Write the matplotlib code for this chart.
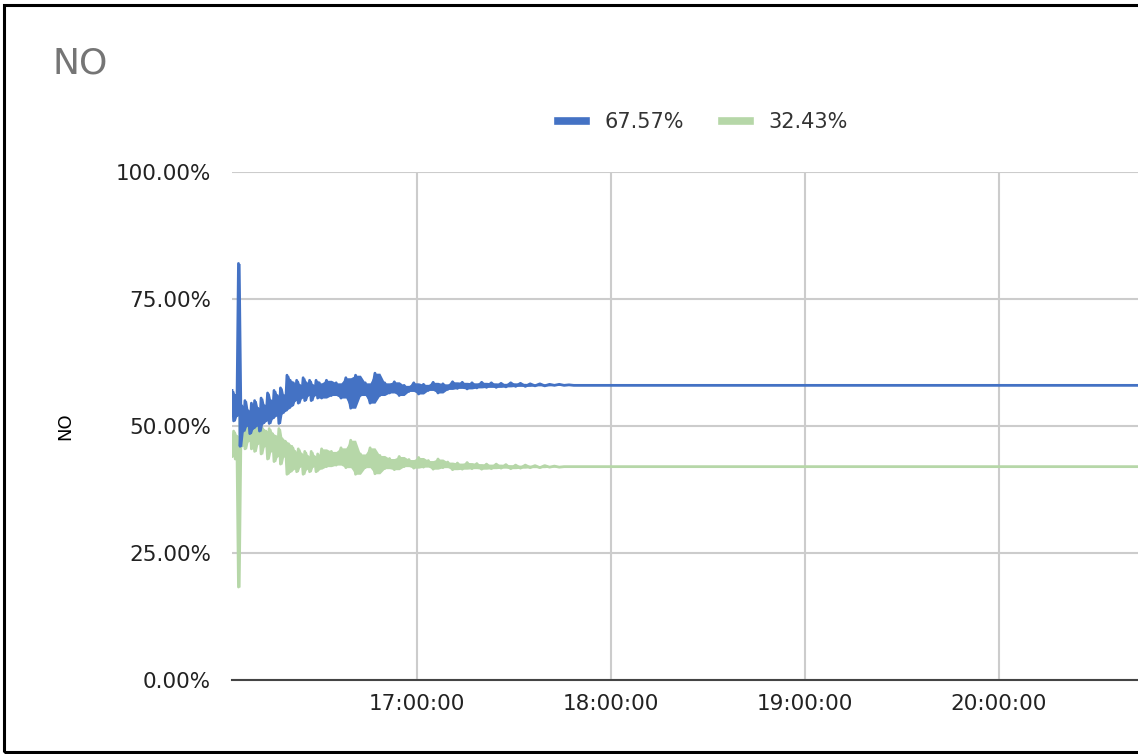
import numpy as np
import pandas as pd
import matplotlib
matplotlib.use("Agg")
import matplotlib.pyplot as plt
import matplotlib.dates as mdates
from matplotlib.lines import Line2D
from matplotlib.patches import Rectangle

AZUL  = "#4472C4"
VERDE = "#B6D7A8"

# ── Datos ───────────────────────────────────────────────────────────────────
titulo        = "NO"
etiqueta_y    = "NO"
leyenda       = ["67.57%", "32.43%"]
ticks_y       = [0, 25, 50, 75, 100]
ticks_x       = ["2024-01-01 17:00", "2024-01-01 18:00", "2024-01-01 19:00", "2024-01-01 20:00"]
inicio_eje    = "2024-01-01 16:02:47"
fin_eje       = "2024-01-01 20:43:00"

# tramo 1: 16:02:47 a ~16:30, muestras cada 30 s (picos y valles alternos)
tiempos_1 = pd.date_range("2024-01-01 16:02:47", periods=55, freq="30s")
azul_1 = [57, 51, 56,
          52, 82, 46,
          54, 49, 55, 50, 53, 48.5, 54.5, 49.5, 55, 50, 53.5, 49, 55.5, 50.5, 54,
          51, 56.5, 50.5, 55, 51.5, 57, 52, 56, 50.5, 57.5, 52.5, 56,
          53, 60, 53.5, 59, 54, 58.5,
          55, 59, 54.5, 58, 55.5, 59.5, 55, 58.5, 56, 59, 55, 58, 56, 59, 55.5, 58.5]
verde_1 = [44, 49, 43.5,
           48, 18.3, 53,
           46, 51, 45.5, 50.5, 47, 52, 45.5, 50.5, 45, 50, 46.5, 51, 44.5, 49.5, 46,
           49, 43.5, 49.5, 45, 48.5, 43, 48, 44, 49.5, 42.5, 47.5, 44,
           47, 40.5, 46.5, 41, 46, 41.5,
           45, 41, 45.5, 42, 44.5, 40.5, 45, 41.5, 44, 41, 45, 42, 44, 41, 44.5, 41.5]

# tramo 2: ~16:30 a ~17:48, muestras cada 90 s
tiempos_2 = pd.date_range("2024-01-01 16:30:30", periods=53, freq="90s")
azul_2 = [55.5, 59, 56, 58.5, 55.5, 59.5, 53.5,
          60, 56, 58.5, 54.5, 60.4,
          56, 58.5, 56.5, 58.7, 56, 58, 56.8, 58.5, 56.3, 58.2, 57, 58.6, 56.5, 58.3,
          57.2, 58.7, 57.4, 58.6, 57.3, 58.5, 57.5, 58.6, 57.6, 58.5, 57.6, 58.4, 57.7,
          58.5, 57.8, 58.4, 57.8, 58.3, 57.9, 58.3, 57.9, 58.2, 58.0, 58.2, 58.0, 58.1, 58.0]
verde_2 = [45.5, 42, 45, 42.3, 45.7, 41.8, 47.2,
           40.5, 44.5, 41.8, 45.7, 40.6,
           44.2, 41.6, 43.6, 41.4, 44, 42, 43.4, 41.7, 43.8, 41.9, 43.2, 41.5, 43.5, 41.8,
           42.9, 41.4, 42.7, 41.5, 42.8, 41.6, 42.6, 41.5, 42.5, 41.6, 42.5, 41.7, 42.4,
           41.6, 42.3, 41.7, 42.3, 41.8, 42.2, 41.8, 42.2, 41.9, 42.1, 41.9, 42.0, 42.0, 42.0]

# tramo 3: estable hasta el final
tiempos_3 = pd.to_datetime(["2024-01-01 18:00", "2024-01-01 19:00",
                            "2024-01-01 20:00", "2024-01-01 20:43"])
azul_3  = [58.0, 58.0, 58.0, 58.0]
verde_3 = [42.0, 42.0, 42.0, 42.0]

tiempos = tiempos_1.append(tiempos_2).append(tiempos_3)
azul    = pd.Series(azul_1 + azul_2 + azul_3, index=tiempos)
verde   = pd.Series(verde_1 + verde_2 + verde_3, index=tiempos)

# ── Figura ──────────────────────────────────────────────────────────────────
fig = plt.figure(figsize=(11.38, 7.54), dpi=100)
ax = fig.add_axes([232 / 1138, 1 - 680 / 754, 1 - 232 / 1138, (680 - 172) / 754])

# banda de ruido: entre cada par de muestras consecutivas
for serie, color, z in [(verde, VERDE, 3), (azul, AZUL, 4)]:
    alto = serie.rolling(2, min_periods=1).max()
    bajo = serie.rolling(2, min_periods=1).min()
    ax.fill_between(tiempos, bajo, alto, color=color, lw=0, zorder=z)
    ax.plot(tiempos, serie, color=color, lw=2.0, zorder=z)

ax.set_ylim(0, 100)
ax.set_yticks(ticks_y)
ax.set_yticklabels([f"{v:.2f}%" for v in ticks_y], fontsize=15.5, color="#222222")
ax.set_xlim(pd.Timestamp(inicio_eje), pd.Timestamp(fin_eje))
ax.set_xticks(pd.to_datetime(ticks_x))
ax.xaxis.set_major_formatter(mdates.DateFormatter("%H:%M:%S"))
ax.tick_params(axis="x", labelsize=15.5, colors="#222222", length=0, pad=10)
ax.tick_params(axis="y", length=0, pad=15)

ax.grid(True, color="#cccccc", lw=1.5, zorder=0)
for s in ["top", "right", "left"]:
    ax.spines[s].set_visible(False)
ax.spines["bottom"].set_color("#444444")
ax.spines["bottom"].set_linewidth(1.5)
ax.spines["bottom"].set_zorder(5)

ax.set_ylabel(etiqueta_y, fontsize=13, labelpad=30)

fig.text(52 / 1138, 1 - 64 / 754, titulo, fontsize=26, color="#757575",
         va="center", ha="left")

manejadores = [Line2D([], [], color=AZUL, lw=5.5), Line2D([], [], color=VERDE, lw=5.5)]
fig.legend(manejadores, leyenda, loc="center", bbox_to_anchor=(703 / 1138, 1 - 122 / 754),
           ncol=2, frameon=False, fontsize=15, handlelength=1.35, handletextpad=0.9,
           columnspacing=1.8, labelcolor="#333333")

fig.add_artist(Rectangle((4 / 1138, 2 / 754), 1.2, 1 - 7 / 754, transform=fig.transFigure,
                         fill=False, edgecolor="black", lw=2.2, clip_on=False))

fig.savefig("out.png", dpi=100)
